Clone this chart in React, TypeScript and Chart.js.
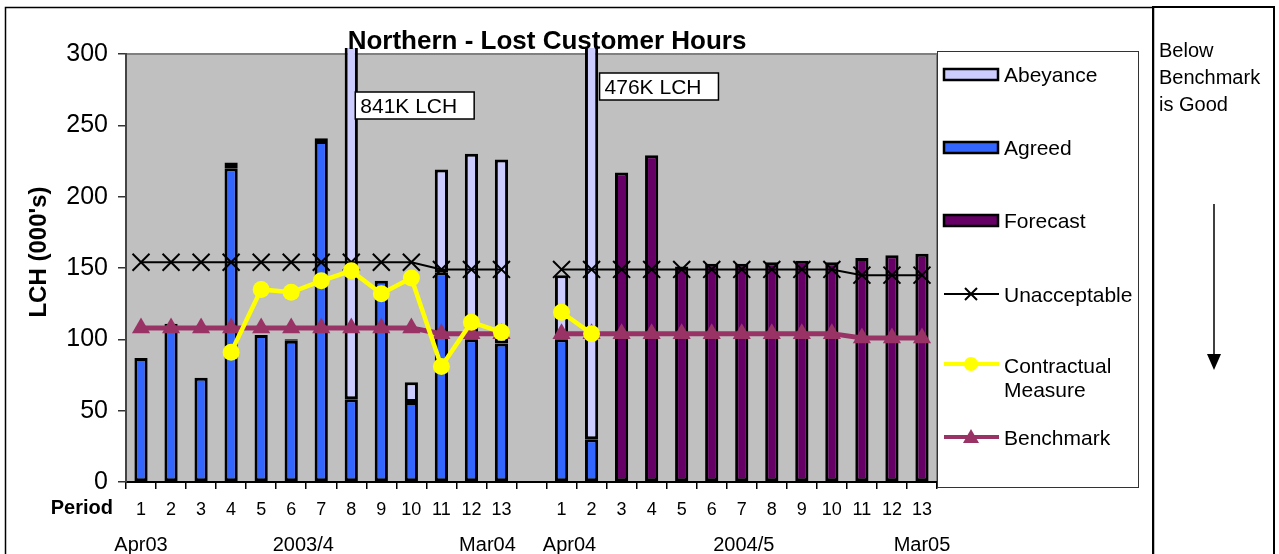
import React, { useEffect, useRef } from 'react';
import { Chart, registerables } from 'chart.js';

Chart.register(...registerables);

// ---- data ----
const periodLabels = ['1','2','3','4','5','6','7','8','9','10','11','12','13','',
  '1','2','3','4','5','6','7','8','9','10','11','12','13'];
const dateLabels = ['Apr03', '2003/4', 'Mar04', 'Apr04', '2004/5', 'Mar05'];
const dateLabelIndex = [0, 6, 12, 14, 20, 26];

const agreed = [87,111,73,220,103,99,239,58,141,56,147,100,97,null,
  100,30,null,null,null,null,null,null,null,null,null,null,null];
const abeyance = [0,0,0,4,0,1,2,783,0,14,72,130,129,null,
  45,446,null,null,null,null,null,null,null,null,null,null,null];
const forecast = [null,null,null,null,null,null,null,null,null,null,null,null,null,null,
  null,null,217,229,151,153,153,154,155,154,157,159,160];
const unacceptable = [154,154,154,154,154,154,154,154,154,154,149,149,149,null,
  149,149,149,149,149,149,149,149,149,149,145,145,145];
const contractual = [null,null,null,91,135,133,141,148,132,143,81,112,105,null,
  119,104,null,null,null,null,null,null,null,null,null,null,null];
const benchmark = [108,108,108,108,108,108,108,108,108,108,104,104,104,null,
  104,104,104,104,104,104,104,104,104,104,101,101,101];

const calloutTexts = ['841K LCH', '476K LCH'];
const calloutIndex = [7, 15];

const titleText = 'Northern - Lost Customer Hours';
const yTitle = "LCH (000's)";
const noteLines = ['Below', 'Benchmark', 'is Good'];

const FONT = "'Liberation Sans', Arial, sans-serif";

const C_ABEY = '#CCCCFF';
const C_AGREED = '#3366FF';
const C_FORE = '#660066';
const C_BENCH = '#993366';
const C_YELLOW = '#FFFF00';

type LegendItem = { label: string; kind: 'rect' | 'line'; color: string; style?: string; lw?: number; r?: number };

const decor = {
  id: 'decor',
  beforeDraw(chart: any) {
    const { ctx, chartArea: a } = chart;
    ctx.save();
    ctx.fillStyle = '#ffffff';
    ctx.fillRect(0, 0, chart.width, chart.height);
    ctx.fillStyle = '#C0C0C0';
    ctx.fillRect(a.left, a.top, a.right - a.left, a.bottom - a.top);
    ctx.strokeStyle = '#808080';
    ctx.lineWidth = 2;
    ctx.beginPath();
    ctx.moveTo(a.left, a.top);
    ctx.lineTo(a.right, a.top);
    ctx.lineTo(a.right, a.bottom);
    ctx.stroke();
    ctx.restore();
  },
  afterDraw(chart: any) {
    const { ctx } = chart;
    const xs = chart.scales.x;
    ctx.save();

    // outer frame
    ctx.strokeStyle = '#000';
    ctx.lineWidth = 1.5;
    ctx.strokeRect(5.5, 7.5, 1148, 560);
    ctx.lineWidth = 2;
    ctx.strokeRect(1153, 7, 121, 560);

    // title
    ctx.fillStyle = '#000';
    ctx.font = `bold 26px ${FONT}`;
    ctx.textAlign = 'center';
    ctx.textBaseline = 'alphabetic';
    ctx.fillText(titleText, 547, 49);

    // y title
    ctx.save();
    ctx.translate(39, 252);
    ctx.rotate(-Math.PI / 2);
    ctx.font = `bold 24px ${FONT}`;
    ctx.textBaseline = 'middle';
    ctx.fillText(yTitle, 0, 0);
    ctx.restore();

    // Period
    ctx.font = `bold 20px ${FONT}`;
    ctx.textAlign = 'right';
    ctx.fillText('Period', 113, 514);

    // date labels
    const nudges = [0, -18, -14, 8, 2, 0];
    ctx.font = `20px ${FONT}`;
    ctx.textAlign = 'center';
    dateLabels.forEach((t, i) => {
      ctx.fillText(t, xs.getPixelForValue(dateLabelIndex[i]) + nudges[i], 551);
    });

    // callouts
    ctx.font = `21px ${FONT}`;
    ctx.textAlign = 'left';
    const cTops = [92, 73];
    const cOff = [4, 8];
    calloutTexts.forEach((t, i) => {
      const x = xs.getPixelForValue(calloutIndex[i]) + cOff[i];
      const w = ctx.measureText(t).width + 22;
      ctx.fillStyle = '#fff';
      ctx.fillRect(x, cTops[i], w, 27);
      ctx.strokeStyle = '#000';
      ctx.lineWidth = 1.5;
      ctx.strokeRect(x, cTops[i], w, 27);
      ctx.fillStyle = '#000';
      ctx.fillText(t, x + 5, cTops[i] + 21);
    });

    // legend
    const lx = 937, ly = 51, lw = 201, lh = 436;
    ctx.fillStyle = '#fff';
    ctx.fillRect(lx, ly, lw, lh);
    ctx.strokeStyle = '#333';
    ctx.lineWidth = 1;
    ctx.strokeRect(lx + 0.5, ly + 0.5, lw, lh);
    const items: LegendItem[] = [
      { label: 'Abeyance', kind: 'rect', color: C_ABEY },
      { label: 'Agreed', kind: 'rect', color: C_AGREED },
      { label: 'Forecast', kind: 'rect', color: C_FORE },
      { label: 'Unacceptable', kind: 'line', color: '#000', style: 'x', lw: 2, r: 7 },
      { label: 'Contractual Measure', kind: 'line', color: C_YELLOW, style: 'circle', lw: 4, r: 7 },
      { label: 'Benchmark', kind: 'line', color: C_BENCH, style: 'tri', lw: 4, r: 8 },
    ];
    const centers = [74, 147, 220, 294, 364, 437];
    ctx.font = `21px ${FONT}`;
    items.forEach((it, i) => {
      const cy = centers[i];
      if (it.kind === 'rect') {
        ctx.fillStyle = it.color;
        ctx.fillRect(944, cy - 5, 54, 11);
        ctx.strokeStyle = '#000';
        ctx.lineWidth = 2.5;
        ctx.strokeRect(944, cy - 5, 54, 11);
      } else {
        ctx.strokeStyle = it.color;
        ctx.lineWidth = it.lw!;
        ctx.beginPath();
        ctx.moveTo(944, cy);
        ctx.lineTo(999, cy);
        ctx.stroke();
        const mx = 971;
        if (it.style === 'x') {
          ctx.lineWidth = 2;
          ctx.beginPath();
          ctx.moveTo(mx - 6, cy - 6); ctx.lineTo(mx + 6, cy + 6);
          ctx.moveTo(mx + 6, cy - 6); ctx.lineTo(mx - 6, cy + 6);
          ctx.stroke();
        } else if (it.style === 'circle') {
          ctx.fillStyle = it.color;
          ctx.beginPath();
          ctx.arc(mx, cy, it.r!, 0, Math.PI * 2);
          ctx.fill();
        } else {
          ctx.fillStyle = it.color;
          ctx.beginPath();
          ctx.moveTo(mx, cy - 8);
          ctx.lineTo(mx + 8, cy + 6);
          ctx.lineTo(mx - 8, cy + 6);
          ctx.closePath();
          ctx.fill();
        }
      }
      ctx.fillStyle = '#000';
      ctx.textAlign = 'left';
      const words = it.label.split(' ');
      if (ctx.measureText(it.label).width > 130 && words.length > 1) {
        ctx.fillText(words[0], 1004, cy + 9);
        ctx.fillText(words.slice(1).join(' '), 1004, cy + 33);
      } else {
        ctx.fillText(it.label, 1004, cy + 8);
      }
    });

    // note box text
    ctx.font = `20px ${FONT}`;
    noteLines.forEach((t, i) => ctx.fillText(t, 1159, 57 + i * 27));

    // arrow
    ctx.strokeStyle = '#000';
    ctx.lineWidth = 1.5;
    ctx.beginPath();
    ctx.moveTo(1214, 204);
    ctx.lineTo(1214, 358);
    ctx.stroke();
    ctx.fillStyle = '#000';
    ctx.beginPath();
    ctx.moveTo(1207, 354);
    ctx.lineTo(1221, 354);
    ctx.lineTo(1214, 370);
    ctx.closePath();
    ctx.fill();

    ctx.restore();
  },
};

export default function App() {
  const ref = useRef<HTMLCanvasElement>(null);
  useEffect(() => {
    if (!ref.current) return;
    const barCommon = {
      type: 'bar' as const,
      borderColor: '#000',
      borderWidth: 3,
      borderSkipped: false as any,
      stack: 'bars',
      categoryPercentage: 1,
      barPercentage: 0.44,
    };
    const chart = new Chart(ref.current, {
      type: 'bar',
      data: {
        labels: periodLabels,
        datasets: [
          {
            type: 'line', label: 'Contractual Measure', data: contractual as any,
            borderColor: C_YELLOW, backgroundColor: C_YELLOW, borderWidth: 4.5,
            pointStyle: 'circle', pointRadius: 8.5, pointBorderWidth: 0,
            stack: 'c', order: 0, spanGaps: false,
          },
          {
            type: 'line', label: 'Benchmark', data: benchmark as any,
            borderColor: C_BENCH, backgroundColor: C_BENCH, borderWidth: 5,
            pointStyle: 'triangle', pointRadius: 10.5, pointBorderWidth: 0,
            stack: 'b', order: 1, spanGaps: false,
          },
          {
            type: 'line', label: 'Unacceptable', data: unacceptable as any,
            borderColor: '#000', backgroundColor: '#000', borderWidth: 2,
            pointStyle: 'crossRot', pointRadius: 12, pointBorderWidth: 2,
            stack: 'u', order: 2, spanGaps: false,
          },
          { ...barCommon, label: 'Agreed', data: agreed as any, backgroundColor: C_AGREED, order: 3 },
          { ...barCommon, label: 'Abeyance', data: abeyance as any, backgroundColor: C_ABEY, order: 4,
            clip: { left: 0, top: 6, right: 0, bottom: 0 } as any },
          { ...barCommon, label: 'Forecast', data: forecast as any, backgroundColor: C_FORE, order: 5 },
        ] as any,
      },
      options: {
        responsive: false,
        animation: false,
        layout: { padding: { left: 0, top: 54, right: 342, bottom: 0 } },
        plugins: { legend: { display: false }, tooltip: { enabled: false }, title: { display: false } },
        scales: {
          x: {
            type: 'category',
            offset: true,
            grid: { offset: true, drawOnChartArea: false, drawTicks: true, tickLength: 7, color: '#000', lineWidth: 1.5 },
            border: { display: true, color: '#000', width: 2 },
            ticks: { color: '#000', font: { size: 18, family: FONT }, padding: 10, autoSkip: false, maxRotation: 0 },
            afterFit: (s: any) => { s.height = 72; },
          },
          y: {
            stacked: true,
            min: 0,
            max: 300,
            grid: { drawOnChartArea: false, drawTicks: true, tickLength: 8, color: '#333', lineWidth: 1.5 },
            border: { display: true, color: '#444', width: 2 },
            ticks: { stepSize: 50, color: '#000', font: { size: 25, family: FONT }, padding: 10 },
            afterFit: (s: any) => { s.width = 126; },
          },
        },
      } as any,
      plugins: [decor],
    });
    return () => chart.destroy();
  }, []);
  return (
    <div style={{ position: 'absolute', left: 0, top: 0, width: 1279, height: 554 }}>
      <canvas ref={ref} width={1279} height={554} style={{ display: 'block' }} />
    </div>
  );
}
